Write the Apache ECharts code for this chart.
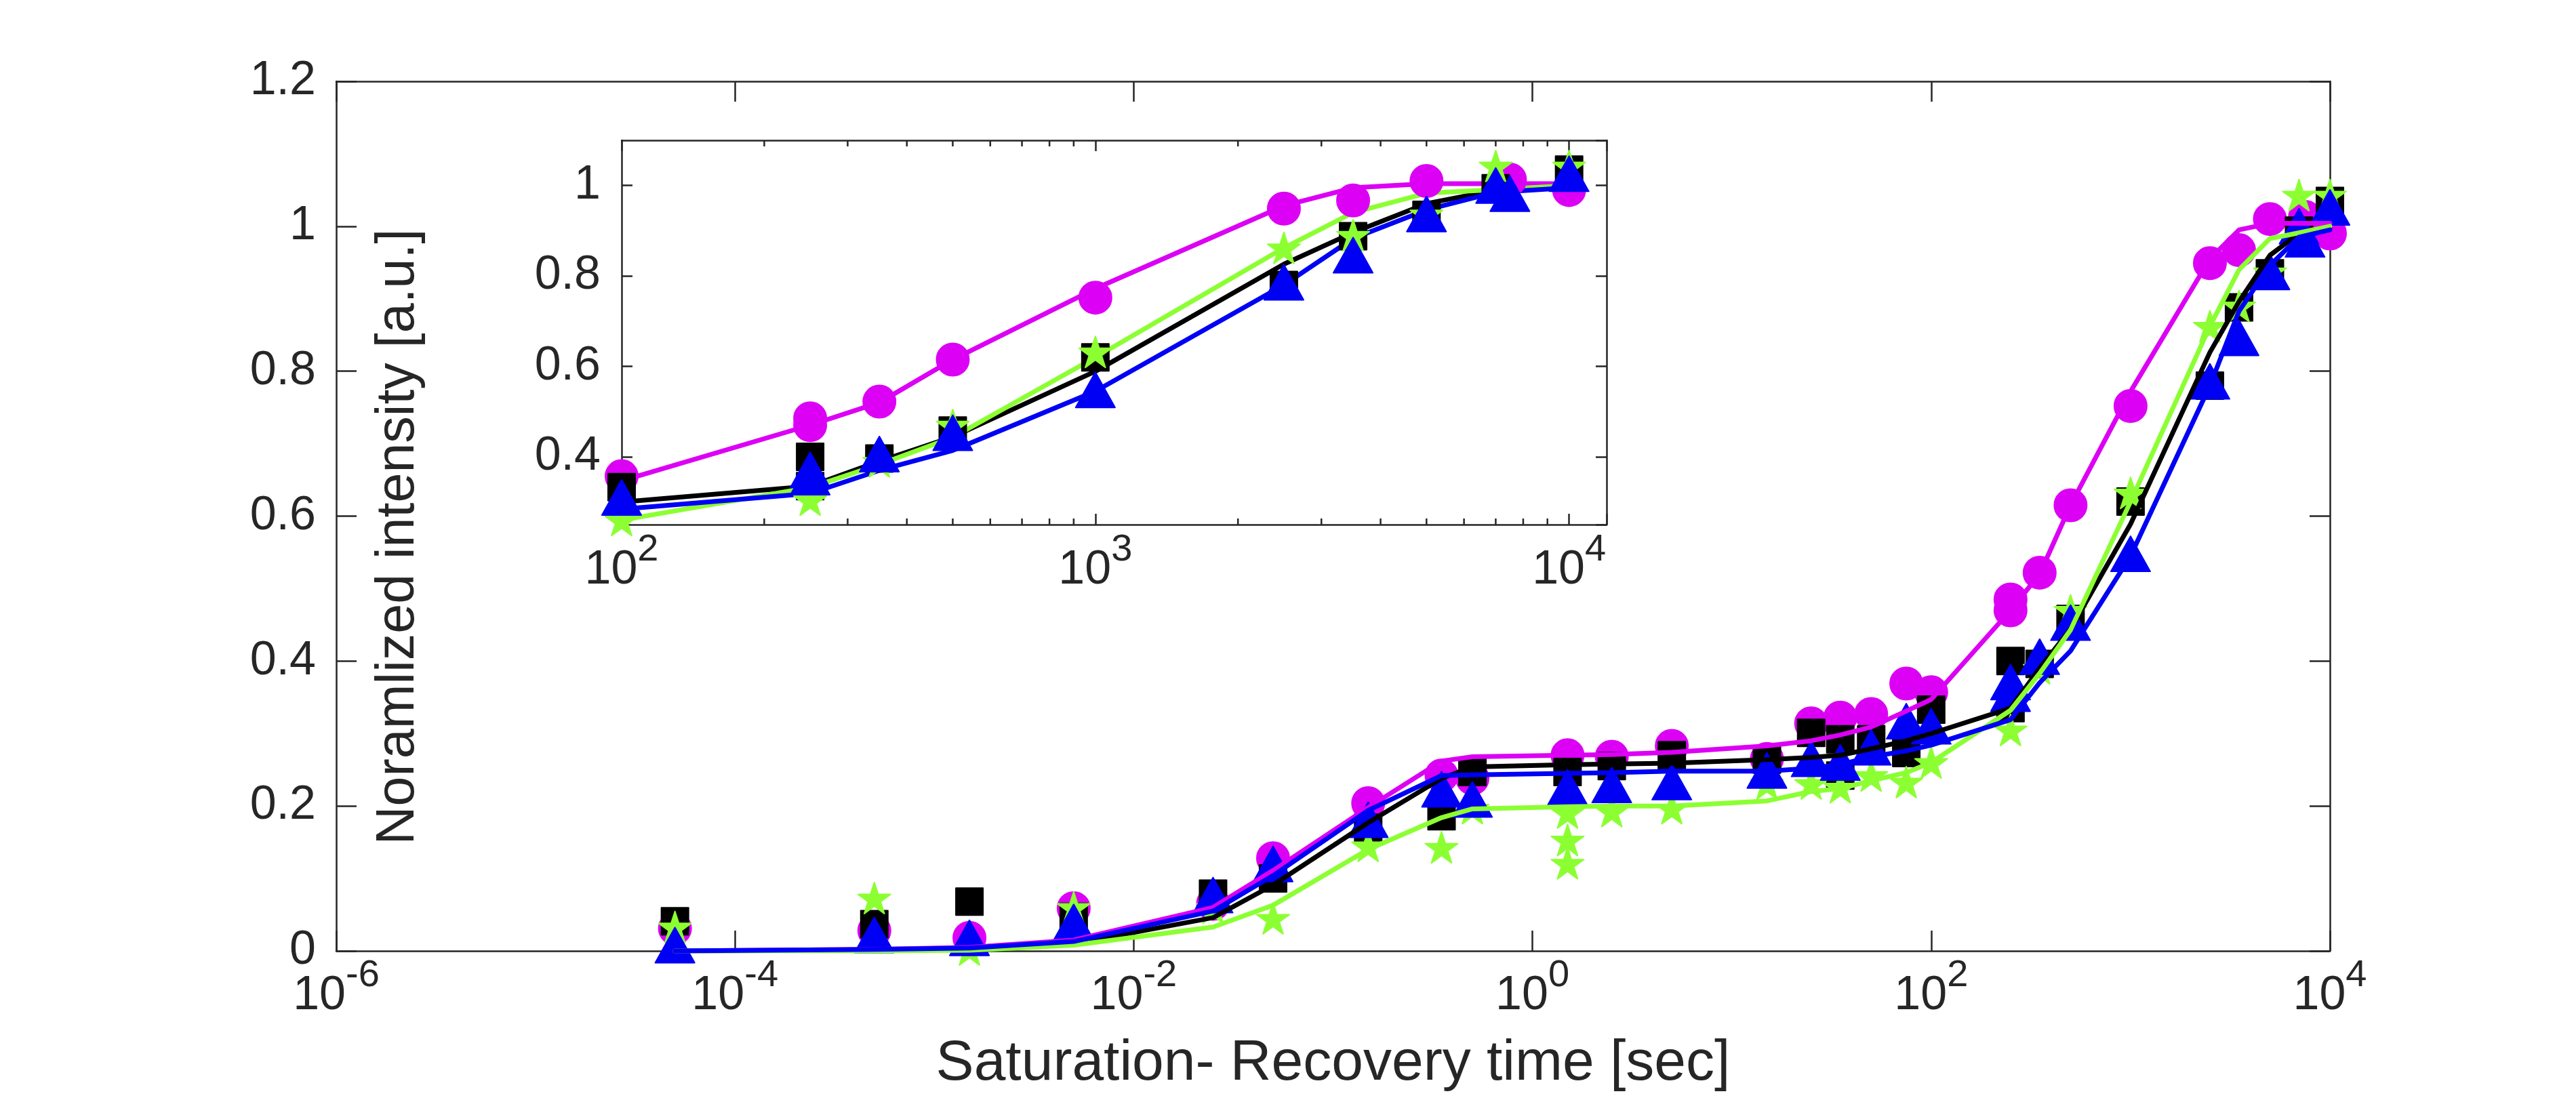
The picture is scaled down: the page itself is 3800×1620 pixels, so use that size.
<!DOCTYPE html>
<html>
<head>
<meta charset="utf-8">
<script src="https://cdn.jsdelivr.net/npm/echarts@6/dist/echarts.min.js"></script>
<style>
  html, body { margin: 0; padding: 0; background: #fff; }
  #chart { width: 3800px; height: 1620px; }
</style>
</head>
<body>
<div id="chart"></div>
<script>
// fit curves, evaluated at these recovery times [sec]
var fitTimes = [5e-5, 5e-4, 1.5e-3, 5e-3, 0.025, 0.05, 0.15, 0.35, 0.5, 1.5, 2.5, 5, 15, 25, 35, 50, 75, 100, 250, 350, 500, 1000, 2500, 3500, 5000, 7000, 10000];
var fitMagenta = [0, 0.002, 0.005, 0.015, 0.06, 0.111, 0.198, 0.262, 0.268, 0.27, 0.271, 0.274, 0.283, 0.29, 0.298, 0.309, 0.331, 0.347, 0.47, 0.52, 0.615, 0.772, 0.955, 0.995, 1.004, 1.004, 1.004];
var fitBlack = [0, 0.001, 0.003, 0.01, 0.046, 0.091, 0.177, 0.238, 0.254, 0.257, 0.258, 0.259, 0.264, 0.267, 0.27, 0.279, 0.29, 0.30, 0.335, 0.39, 0.444, 0.589, 0.826, 0.896, 0.96, 0.99, 0.998];
var fitGreen = [0, 0, 0.001, 0.008, 0.033, 0.063, 0.14, 0.184, 0.196, 0.199, 0.2, 0.2, 0.207, 0.22, 0.224, 0.235, 0.246, 0.26, 0.332, 0.383, 0.443, 0.62, 0.862, 0.94, 0.983, 0.991, 1.0];
var fitBlue = [0, 0.002, 0.004, 0.013, 0.055, 0.104, 0.194, 0.242, 0.243, 0.245, 0.246, 0.248, 0.248, 0.252, 0.257, 0.268, 0.276, 0.284, 0.319, 0.37, 0.414, 0.545, 0.78, 0.883, 0.946, 0.985, 0.995];

// measured points [time, intensity]
var ptsMagenta = [[5e-5,0.031],[5e-4,0.028],[1.5e-3,0.018],[5e-3,0.059],[0.025,0.065],[0.05,0.128],[0.15,0.204],[0.35,0.242],[0.5,0.238],[1.5,0.27],[2.5,0.268],[5,0.283],[15,0.265],[25,0.314],[35,0.322],[50,0.327],[75,0.369],[100,0.357],[250,0.485],[250,0.47],[350,0.522],[500,0.615],[1000,0.752],[2500,0.949],[3500,0.967],[5000,1.01],[7500,1.013],[10000,0.99]];
var ptsBlack = [[5e-5,0.041],[5e-4,0.037],[1.5e-3,0.068],[5e-3,0.047],[0.025,0.079],[0.05,0.10],[0.15,0.17],[0.35,0.186],[0.5,0.247],[1.5,0.247],[2.5,0.255],[5,0.27],[15,0.264],[25,0.301],[35,0.292],[35,0.242],[50,0.292],[75,0.273],[100,0.333],[250,0.40],[250,0.335],[350,0.396],[500,0.458],[1000,0.62],[2500,0.78],[3500,0.888],[5000,0.935],[7000,0.994],[10000,1.035]];
var ptsGreen = [[5e-5,0.033],[5e-4,0.073],[1.5e-3,0.002],[5e-3,0.06],[0.025,0.06],[0.05,0.045],[0.15,0.145],[0.35,0.143],[0.5,0.197],[1.5,0.191],[1.5,0.153],[1.5,0.121],[2.5,0.193],[5,0.197],[15,0.231],[25,0.231],[35,0.226],[50,0.242],[75,0.233],[100,0.26],[250,0.305],[350,0.39],[500,0.47],[1000,0.632],[2500,0.862],[3500,0.89],[5000,0.937],[7000,1.043],[10000,1.043]];
var ptsBlue = [[5e-5,0.008],[5e-4,0.022],[1.5e-3,0.018],[5e-3,0.04],[0.025,0.077],[0.05,0.12],[0.15,0.181],[0.35,0.223],[0.5,0.209],[1.5,0.226],[2.5,0.229],[5,0.233],[15,0.249],[25,0.265],[35,0.26],[50,0.281],[75,0.317],[100,0.31],[250,0.371],[250,0.355],[350,0.406],[500,0.453],[1000,0.548],[2500,0.786],[3500,0.846],[5000,0.937],[7000,1.0],[7500,0.982],[10000,1.026]];

// axis ranges
var mainXMin = 1e-6, mainXMax = 1e4;
var insetXMin = 100, insetXMax = 12000;
var insetYMin = 0.25, insetYMax = 1.1;
var insetMinorTicks = [200, 300, 400, 500, 600, 700, 800, 900, 2000, 3000, 4000, 5000, 6000, 7000, 8000, 9000];

// 样式
var FONT = "'Liberation Sans', Arial, Helvetica, sans-serif";
var AXIS = '#262626';
var STAR = 'path://M0,-100L22.45,-30.9L95.11,-30.9L36.33,11.8L58.78,80.9L0,38.2L-58.78,80.9L-36.33,11.8L-95.11,-30.9L-22.45,-30.9Z';

var sets = [
  { name: 'magenta', color: '#DC00F5', fit: fitMagenta, pts: ptsMagenta, symbol: 'circle', size: 48 },
  { name: 'black', color: '#000000', fit: fitBlack, pts: ptsBlack, symbol: 'rect', size: 40 },
  { name: 'green', color: '#8CFF33', fit: fitGreen, pts: ptsGreen, symbol: STAR, size: [48, 46] },
  { name: 'blue', color: '#0000F5', fit: fitBlue, pts: ptsBlue, symbol: 'triangle', size: [58, 52] }
];

// 10^n labels
function powLabel(v) {
  var e = Math.log10(v);
  if (Math.abs(e - Math.round(e)) > 1e-6) return '';
  return '{b|10}{s|' + Math.round(e) + '}';
}
var powRich = {
  b: { fontFamily: FONT, fontSize: 70, color: AXIS, lineHeight: 70, padding: [30, 0, 0, 0] },
  s: { fontFamily: FONT, fontSize: 56, color: AXIS, lineHeight: 56, padding: [0, 0, 30, 0] }
};

function frameAxis(extra) {
  var base = {
    axisLine: { show: true, onZero: false, lineStyle: { color: AXIS, width: 2.5 } },
    splitLine: { show: false },
    axisLabel: { show: false },
    axisTick: { show: true, inside: true, length: 30, lineStyle: { color: AXIS, width: 2.5 } }
  };
  for (var k in extra) base[k] = extra[k];
  return base;
}

var series = [];
sets.forEach(function (s) {
  var fitLine = fitTimes.map(function (t, i) { return [t, s.fit[i]]; });
  var scatterStyle = {
    type: 'scatter', symbol: s.symbol, symbolSize: s.size,
    itemStyle: { color: s.color, opacity: 1, borderColor: s.color, borderWidth: 2, borderJoin: 'round' }
  };
  var lineStyle = {
    type: 'line', showSymbol: false, symbol: 'none',
    lineStyle: { color: s.color, width: 7, cap: 'round', join: 'round' }
  };
  // main axes
  series.push(Object.assign({}, scatterStyle, { name: s.name, xAxisIndex: 0, yAxisIndex: 0, data: s.pts }));
  series.push(Object.assign({}, lineStyle, { name: s.name + ' fit', xAxisIndex: 0, yAxisIndex: 0, data: fitLine }));
  // inset (t >= 100)
  series.push(Object.assign({}, scatterStyle, { name: s.name + ' inset', xAxisIndex: 2, yAxisIndex: 2, z: 3,
    data: s.pts.filter(function (p) { return p[0] >= insetXMin; }) }));
  series.push(Object.assign({}, lineStyle, { name: s.name + ' inset fit', xAxisIndex: 2, yAxisIndex: 2, z: 3,
    data: fitLine.filter(function (p) { return p[0] >= insetXMin; }) }));
});

// 小刻度 (inset log axis minor ticks)
series.push({
  type: 'custom', xAxisIndex: 2, yAxisIndex: 2, silent: true, clip: false, z: 4,
  data: insetMinorTicks.map(function (t) { return [t, insetYMin]; }),
  renderItem: function (params, api) {
    var b = api.coord([api.value(0), insetYMin]);
    var tp = api.coord([api.value(0), insetYMax]);
    var st = { stroke: AXIS, lineWidth: 2.5 };
    return { type: 'group', children: [
      { type: 'line', shape: { x1: b[0], y1: b[1], x2: b[0], y2: b[1] - 9 }, style: st },
      { type: 'line', shape: { x1: tp[0], y1: tp[1], x2: tp[0], y2: tp[1] + 9 }, style: st }
    ] };
  }
});

var option = {
  animation: false,
  backgroundColor: '#ffffff',
  grid: [
    { left: 496, top: 120, width: 2941, height: 1283 },
    { left: 917, top: 207, width: 1453, height: 567, show: true, backgroundColor: '#ffffff', borderWidth: 0 }
  ],
  xAxis: [
    frameAxis({ type: 'log', gridIndex: 0, position: 'bottom', min: mainXMin, max: mainXMax, logBase: 10, interval: 2,
      name: 'Saturation- Recovery time [sec]', nameLocation: 'middle', nameGap: 125,
      nameTextStyle: { fontFamily: FONT, fontSize: 84, color: AXIS },
      axisLabel: { show: true, margin: 17, formatter: powLabel, rich: powRich } }),
    frameAxis({ type: 'log', gridIndex: 0, position: 'top', min: mainXMin, max: mainXMax, logBase: 10, interval: 2 }),
    frameAxis({ type: 'log', gridIndex: 1, position: 'bottom', min: insetXMin, max: insetXMax, logBase: 10, interval: 1,
      axisTick: { show: true, inside: true, length: 16, lineStyle: { color: AXIS, width: 2.5 } },
      axisLabel: { show: true, margin: 18, formatter: powLabel, rich: powRich } }),
    frameAxis({ type: 'log', gridIndex: 1, position: 'top', min: insetXMin, max: insetXMax, logBase: 10, interval: 1,
      axisTick: { show: true, inside: true, length: 16, lineStyle: { color: AXIS, width: 2.5 } } })
  ],
  yAxis: [
    frameAxis({ type: 'value', gridIndex: 0, position: 'left', min: 0, max: 1.2, interval: 0.2,
      axisLabel: { show: true, margin: 30, fontFamily: FONT, fontSize: 70, color: AXIS } }),
    frameAxis({ type: 'value', gridIndex: 0, position: 'right', min: 0, max: 1.2, interval: 0.2 }),
    frameAxis({ type: 'value', gridIndex: 1, position: 'left', min: insetYMin, max: insetYMax, splitNumber: 4,
      axisTick: { show: true, inside: true, length: 16, lineStyle: { color: AXIS, width: 2.5 } },
      axisLabel: { show: true, margin: 31, fontFamily: FONT, fontSize: 70, color: AXIS, showMinLabel: false, showMaxLabel: false } }),
    frameAxis({ type: 'value', gridIndex: 1, position: 'right', min: insetYMin, max: insetYMax, splitNumber: 4,
      axisTick: { show: true, inside: true, length: 16, lineStyle: { color: AXIS, width: 2.5 } } })
  ],
  graphic: [
    { type: 'text', x: 588, y: 792, rotation: Math.PI / 2,
      style: { text: 'Noramlized intensity [a.u.]', font: "79px 'Liberation Sans', Arial, sans-serif",
        fill: AXIS, textAlign: 'center', textVerticalAlign: 'middle' } }
  ],
  series: series
};

var myChart = echarts.init(document.getElementById('chart'));
myChart.setOption(option);
</script>
</body>
</html>
